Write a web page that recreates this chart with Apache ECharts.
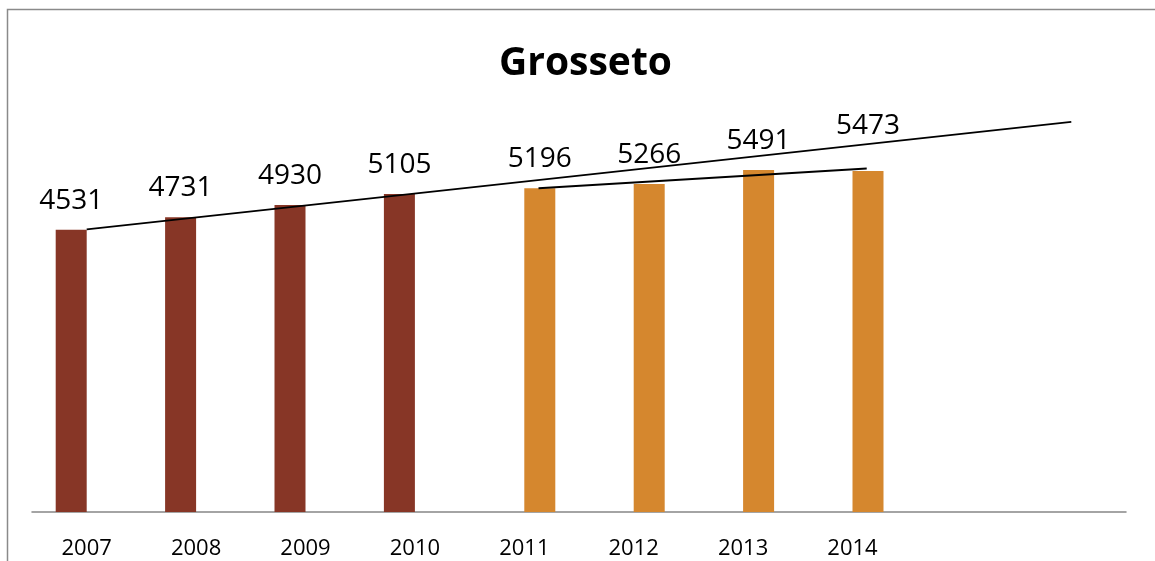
<!DOCTYPE html>
<html>
<head>
<meta charset="utf-8">
<script src="https://cdn.jsdelivr.net/npm/echarts@6/dist/echarts.min.js"></script>
<style>
  html, body { margin: 0; padding: 0; background: #ffffff; }
  #chart { width: 1155px; height: 561px; }
</style>
</head>
<body>
<div id="chart"></div>
<script>
// ---- data ----
var titleText = 'Grosseto';
var categories = ['2007', '2008', '2009', '2010', '2011', '2012', '2013', '2014', '', ''];
var seriesA = [4531, 4731, 4930, 5105, null, null, null, null, null, null];
var seriesB = [null, null, null, null, 5196, 5266, 5491, 5473, null, null];

// ---- linear trend (least squares on the series' own points) ----
function fit(values) {
  var xs = [], ys = [];
  values.forEach(function (v, i) { if (v != null) { xs.push(i + 1); ys.push(v); } });
  var n = xs.length, mx = 0, my = 0;
  for (var i = 0; i < n; i++) { mx += xs[i]; my += ys[i]; }
  mx /= n; my /= n;
  var sxy = 0, sxx = 0;
  for (var j = 0; j < n; j++) { sxy += (xs[j] - mx) * (ys[j] - my); sxx += (xs[j] - mx) * (xs[j] - mx); }
  var b = sxy / sxx, a = my - b * mx;
  return { f: function (x) { return a + b * x; }, first: xs[0], last: xs[n - 1] };
}
var trendA = fit(seriesA);
var trendB = fit(seriesB);
var trendAEnd = categories.length;          // forecast forward to last category
var shiftB = 0.13;                          // orange trend drawn at bar centres
var trendAData = [[trendA.first, trendA.f(trendA.first)], [trendAEnd, trendA.f(trendAEnd)]];
var trendBData = [[trendB.first + shiftB, trendB.f(trendB.first)], [trendB.last + shiftB, trendB.f(trendB.last)]];

var FONT = '"Open Sans", "Noto Sans", sans-serif';
var chart = echarts.init(document.getElementById('chart'), null, { renderer: 'canvas' });

var labelCfg = { show: true, position: 'top', distance: 15, color: '#000', fontSize: 28, fontFamily: FONT };

var dataB = seriesB.map(function (v, i) {
  if (i === 7) return { value: v, label: { offset: [0, -16] } };
  return v;
});

chart.setOption({
  animation: false,
  backgroundColor: '#ffffff',
  title: {
    text: titleText, left: 494, top: 39,
    textStyle: { fontSize: 39, fontWeight: 'bold', color: '#000', fontFamily: FONT }
  },
  graphic: [{
    type: 'rect', silent: true, z: 100,
    shape: { x: 7.5, y: 9.5, width: 1300, height: 700 },
    style: { fill: 'none', stroke: '#8a8a8a', lineWidth: 1.5 }
  }],
  grid: { left: 32, right: 29, top: 76, bottom: 49, containLabel: false },
  xAxis: [{
    type: 'category', data: categories,
    axisLine: { show: true, lineStyle: { color: '#868686', width: 1.5 } },
    axisTick: { show: false },
    axisLabel: { color: '#000', fontSize: 22, fontFamily: FONT, margin: 26, interval: 0 },
    splitLine: { show: false }
  }, {
    type: 'value', min: 0.5, max: categories.length + 0.5, show: false
  }],
  yAxis: {
    type: 'value', min: 0, max: 7000, show: false, splitLine: { show: false }
  },
  series: [{
    type: 'bar', data: seriesA, barWidth: 31, barGap: '0%',
    itemStyle: { color: '#873626' }, label: labelCfg
  }, {
    type: 'bar', data: dataB, barWidth: 31, barGap: '0%',
    itemStyle: { color: '#D5872E' }, label: labelCfg
  }, {
    type: 'line', xAxisIndex: 1, data: trendAData, symbol: 'none', silent: true, z: 5,
    lineStyle: { color: '#000', width: 1.8 }
  }, {
    type: 'line', xAxisIndex: 1, data: trendBData, symbol: 'none', silent: true, z: 5,
    lineStyle: { color: '#000', width: 1.8 }
  }]
});
</script>
</body>
</html>
